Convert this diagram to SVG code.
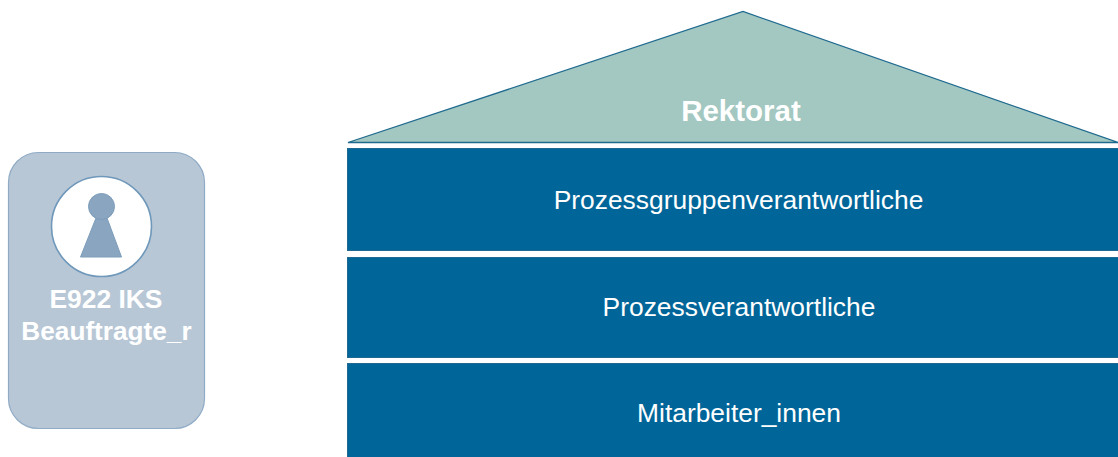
<svg xmlns="http://www.w3.org/2000/svg" width="1118" height="457" viewBox="0 0 1118 457">
<style>
text{font-family:"Liberation Sans",Arial,sans-serif;fill:#fff;text-anchor:middle}
.bar{fill:#006699;stroke:#1f6a93;stroke-width:1}
.lbl{font-size:26.400px}
.bold{font-weight:bold}
</style>
<rect width="1118" height="457" fill="#fff"/>
<g id="rektorat">
<polygon points="348,142.500 743,11.500 1118,142.500" fill="#a3c7c1" stroke="#1f6a8f" stroke-width="1.300"/>
<text class="bold" x="741" y="120.500" font-size="29.500">Rektorat</text>
</g>
<g id="prozessgruppenverantwortliche">
<rect class="bar" x="347.500" y="148.500" width="771" height="102"/>
<text class="lbl" x="738.500" y="208.500">Prozessgruppenverantwortliche</text>
</g>
<g id="prozessverantwortliche">
<rect class="bar" x="347.500" y="257.500" width="771" height="100"/>
<text class="lbl" x="739" y="315.500">Prozessverantwortliche</text>
</g>
<g id="mitarbeiter">
<rect class="bar" x="347.500" y="363.500" width="771" height="95"/>
<text class="lbl" x="739" y="421.500">Mitarbeiter_innen</text>
</g>
<g id="iks-beauftragte">
<rect x="8.500" y="152.500" width="196" height="276" rx="30" ry="30" fill="#b8c7d6" stroke="#8fabc6" stroke-width="1.200"/>
<circle cx="101.500" cy="226.500" r="50" fill="#fff" stroke="#6f98ba" stroke-width="1.600"/>
<polygon points="80.500,257 121.500,257 107,218 96,218" fill="#8aa5bf" stroke="#7c9cba" stroke-width="1"/>
<circle cx="101.500" cy="206.500" r="13" fill="#8aa5bf" stroke="#7c9cba" stroke-width="1"/>
<text class="bold" x="106" y="308" font-size="26.400">E922 IKS</text>
<text class="bold" x="106.500" y="340" font-size="26.200">Beauftragte_r</text>
</g>
<g id="connectors"/>
</svg>
